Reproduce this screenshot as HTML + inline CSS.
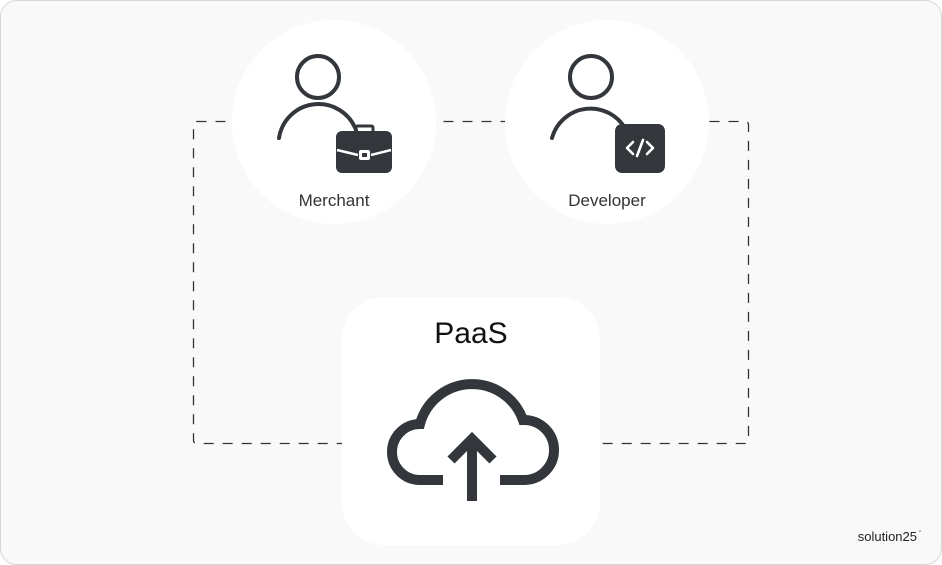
<!DOCTYPE html>
<html><head><style>
body{margin:0;background:#fff;}
svg{display:block;font-family:"Liberation Sans",sans-serif;}
</style></head><body>
<svg width="942" height="565" viewBox="0 0 942 565">
<rect x="0.5" y="0.5" width="941" height="564" rx="16" fill="#f9f9f9" stroke="#d6d6d6"/>
<rect x="193.5" y="121.5" width="555" height="322" rx="3" fill="none" stroke="#333" stroke-width="1.3" stroke-dasharray="10,9"/>
<circle cx="334" cy="122" r="102" fill="#fff"/>
<circle cx="607" cy="122" r="102" fill="#fff"/>
<rect x="342" y="297" width="258" height="248" rx="42" fill="#fff"/>
<g fill="none" stroke="#33363a" stroke-width="4" stroke-linecap="round">
<circle cx="318" cy="77" r="21"/>
<path d="M279 138 A40 40 0 0 1 356 130"/>
<circle cx="591" cy="77" r="21"/>
<path d="M552 138 A40 40 0 0 1 626 130"/>
</g>
<rect x="336" y="131" width="56" height="42" rx="6" fill="#33363a"/>
<rect x="356" y="126" width="17" height="7" rx="1.5" fill="none" stroke="#33363a" stroke-width="3"/>
<path d="M337 150 L358 155 M371 155 L391 150" stroke="#fff" stroke-width="2.5"/>
<rect x="359" y="150" width="11" height="10" rx="2" fill="#fff"/>
<rect x="362" y="153" width="5" height="4" fill="#33363a"/>
<rect x="615" y="124" width="50" height="49" rx="7" fill="#33363a"/>
<g fill="none" stroke="#fff" stroke-width="2.6" stroke-linecap="round" stroke-linejoin="round">
<path d="M633 142 L627 148 L633 154"/><path d="M647 142 L653 148 L647 154"/><path d="M643 140 L637 156"/>
</g>
<text x="334" y="206" font-size="17" fill="#333" text-anchor="middle">Merchant</text>
<text x="607" y="206" font-size="17" fill="#333" text-anchor="middle">Developer</text>
<text x="471" y="343" font-size="30" fill="#111" text-anchor="middle">PaaS</text>
<g fill="none" stroke="#33363a" stroke-width="10">
<path d="M443 480 L420 480 A28 28 0 0 1 420 424 A54 54 0 0 1 523 420 A30 30 0 0 1 525 480 L500 480"/>
<path d="M472 501 L472 437"/>
<path d="M451 460 L472 439 L493 460"/>
</g>
<text x="917" y="541" font-size="13" fill="#222" text-anchor="end">solution25</text>
<text x="919" y="534" font-size="5" fill="#222">°</text>
</svg>
</body></html>
